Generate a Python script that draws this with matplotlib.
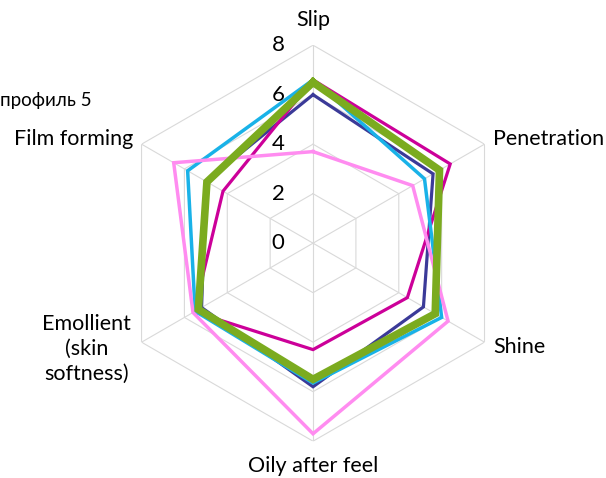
import numpy as np
import matplotlib
matplotlib.use('Agg')
from matplotlib import pyplot as plt
from matplotlib import transforms

plt.rcParams['font.family'] = ['Lato', 'DejaVu Sans']

categories = ['Slip', 'Penetration', 'Shine', 'Oily after feel',
              'Emollient\n(skin\nsoftness)', 'Film forming']
radial_ticks = [0, 2, 4, 6, 8]

profile_1 = [6.0, 5.6, 5.15, 5.8, 5.2, 5.0]   # navy
profile_2 = [6.6, 6.4, 4.4, 4.3, 5.55, 4.2]   # magenta
profile_3 = [6.6, 5.2, 6.0, 5.65, 5.5, 5.85]  # cyan
profile_4 = [3.7, 4.65, 6.3, 7.7, 5.6, 6.5]   # pink
profile_5 = [6.5, 5.9, 5.7, 5.5, 5.35, 4.95]  # green

series = [
    (profile_1, '#3b3a98', 2.3),
    (profile_2, '#cc0099', 2.3),
    (profile_3, '#19b2e8', 2.5),
    (profile_4, '#ff8cf0', 2.5),
    (profile_5, '#7bab1f', 5.5),
]

n = len(categories)
theta = np.linspace(0, 2 * np.pi, n, endpoint=False)
theta_closed = np.append(theta, theta[0])

fig = plt.figure(figsize=(6.06, 4.78), dpi=100)
ax = fig.add_axes([0.1898, 0.0764, 0.6535, 0.8297], projection='polar')
ax.set_theta_zero_location('N')
ax.set_theta_direction(-1)
ax.set_ylim(0, 8)
ax.grid(False)
ax.set_frame_on(False)
ax.set_xticks([])
ax.set_yticks([])

grid_col = '#d9d9d9'
for r in radial_ticks[1:]:
    ax.plot(theta_closed, [r] * (n + 1), color=grid_col, lw=0.8, zorder=1)
for t in theta:
    ax.plot([t, t], [0, 8], color=grid_col, lw=0.8, zorder=1)

for vals, col, lw in series:
    ax.plot(theta_closed, vals + vals[:1], color=col, lw=lw,
            solid_joinstyle='miter', zorder=3)

off = transforms.offset_copy(ax.transData, fig=fig, x=-35, y=0, units='dots')
for r in radial_ticks:
    ax.text(0, r, str(r), transform=off, ha='center', va='center',
            fontsize=16, color='black', zorder=4)

# category labels
fs = 15.5
ax.text(0, 9.0, categories[0], ha='center', va='center', fontsize=fs)
ax.text(theta[1], 8.4, categories[1], ha='left', va='center', fontsize=fs)
ax.text(theta[2], 8.4, categories[2], ha='left', va='center', fontsize=fs)
ax.text(np.pi, 9.0, categories[3], ha='center', va='center', fontsize=fs)
ax.text(np.deg2rad(245.0), 10.1, categories[4], ha='center', va='center',
        fontsize=fs, linespacing=1.3)
ax.text(theta[5], 8.4, categories[5], ha='right', va='center', fontsize=fs)

fig.text(0.0, 0.79, 'профиль 5', ha='left', va='center', fontsize=13.5)

fig.savefig('out.png', dpi=100)
